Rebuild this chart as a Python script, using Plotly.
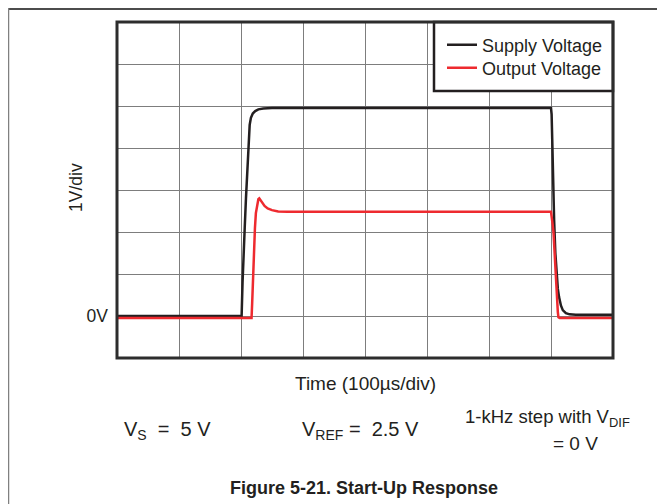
import plotly.graph_objects as go

# ---- data ----
supply_t = [0, 201, 202.5, 204, 206, 208, 210, 212, 214, 216, 219, 223, 228, 236, 250,
            700, 701, 702, 703.5, 705, 707, 709, 711, 713, 716, 719, 724, 730, 740, 800]
supply_v = [0.0, 0.0, 0.8, 1.5, 2.1, 2.8, 3.5, 4.1, 4.55, 4.72, 4.82, 4.88, 4.92, 4.94, 4.95,
            4.95, 4.8, 4.2, 3.0, 2.3, 1.5, 0.95, 0.65, 0.45, 0.25, 0.14, 0.07, 0.04, 0.03, 0.03]

output_t = [0, 217, 218, 219.5, 221, 222.5, 224, 226, 228, 229.5, 231, 234, 238, 243, 250, 260, 275,
            700, 701, 702.5, 704, 706, 708, 709.5, 711, 712, 714, 800]
output_v = [-0.05, -0.05, 0.3, 1.0, 1.6, 2.1, 2.45, 2.68, 2.78, 2.8, 2.77, 2.7, 2.62, 2.56, 2.52, 2.49, 2.48,
            2.48, 2.4, 2.2, 2.0, 1.4, 0.95, 0.5, 0.1, -0.03, -0.05, -0.05]

series_names = ["Supply Voltage", "Output Voltage"]
x_ticks = [0, 100, 200, 300, 400, 500, 600, 700, 800]
y_ticks = [-1, 0, 1, 2, 3, 4, 5, 6, 7]
y_ticktext = ["", "0V", "", "", "", "", "", "", ""]

FONT = "Arial, Liberation Sans, sans-serif"
TXT = "#231f20"

# the page adds an 8px body margin, so the figure is 8px smaller than the window
OFF = 8
W, H = 665 - OFF, 504 - OFF
# plot area in window (screen) pixels
L, R, T, B = 117, 613, 22, 358
PW, PH = R - L, B - T


def px(x):
    return (x - L) / PW


def py(y):
    return (B - y) / PH


fig = go.Figure()
fig.add_trace(go.Scatter(x=supply_t, y=supply_v, mode="lines", name=series_names[0],
                         line=dict(color="#231f20", width=2.5), legend="legend"))
fig.add_trace(go.Scatter(x=output_t, y=output_v, mode="lines", name=series_names[1],
                         line=dict(color="#ee2a2f", width=2.5), legend="legend2"))

leg_common = dict(xanchor="left", yanchor="middle", bgcolor="rgba(0,0,0,0)", borderwidth=0,
                  font=dict(family=FONT, size=18, color=TXT), itemwidth=30)

fig.update_layout(
    width=W, height=H,
    margin=dict(l=L - OFF, r=665 - R, t=T - OFF, b=504 - B, pad=0),
    paper_bgcolor="white", plot_bgcolor="white",
    font=dict(family=FONT, color=TXT, size=18),
    showlegend=True,
    legend=dict(x=px(442), y=py(45), **leg_common),
    legend2=dict(x=px(442), y=py(68), **leg_common),
)
fig.update_xaxes(range=[0, 800], tickvals=x_ticks, ticktext=[""] * len(x_ticks),
                 showgrid=True, gridcolor="#7d7d7d", gridwidth=1.3,
                 zeroline=False, showline=False, ticks="", fixedrange=True)
fig.update_yaxes(range=[-1, 7], tickvals=y_ticks, ticktext=y_ticktext,
                 showgrid=True, gridcolor="#7d7d7d", gridwidth=1.3,
                 zeroline=False, showline=False, ticks="", ticklabelstandoff=8,
                 tickfont=dict(family=FONT, size=17.5, color=TXT), fixedrange=True)

shapes = [
    # legend box
    dict(type="rect", xref="paper", yref="paper", x0=px(434), x1=1, y0=py(91), y1=1,
         fillcolor="white", line=dict(color="#231f20", width=2.5), layer="above"),
    # plot frame
    dict(type="rect", xref="paper", yref="paper", x0=0, x1=1, y0=0, y1=1,
         line=dict(color="#2d2d2d", width=3), layer="above"),
    # page border lines
    dict(type="line", xref="paper", yref="paper", x0=px(8), x1=px(666), y0=py(9), y1=py(9),
         line=dict(color="#111111", width=1.5), layer="above"),
    dict(type="line", xref="paper", yref="paper", x0=px(8.5), x1=px(8.5), y0=py(7), y1=py(505),
         line=dict(color="#808080", width=1.5), layer="above"),
]
fig.update_layout(shapes=shapes)

ann = [
    dict(text="1V/div", x=px(76), y=py(188), textangle=-90, font=dict(size=17.5)),
    dict(text="Time (100µs/div)", x=px(365), y=py(383), font=dict(size=19)),
    dict(text="V<sub>S</sub>&nbsp; =&nbsp; 5 V", x=px(167.5), y=py(431), font=dict(size=20)),
    dict(text="V<sub>REF</sub> =&nbsp; 2.5 V", x=px(360), y=py(431), font=dict(size=20)),
    dict(text="1-kHz step with V<sub>DIF</sub>", x=px(547), y=py(418), font=dict(size=18.5)),
    dict(text="= 0 V", x=px(575.5), y=py(443), font=dict(size=19)),
    dict(text="<b>Figure 5-21. Start-Up Response</b>", x=px(363.5), y=py(488), font=dict(size=18)),
]
for a in ann:
    a.update(xref="paper", yref="paper", showarrow=False, xanchor="center", yanchor="middle")
    a["font"].update(family=FONT, color=TXT)
fig.update_layout(annotations=ann)

fig.write_html("out.html")
